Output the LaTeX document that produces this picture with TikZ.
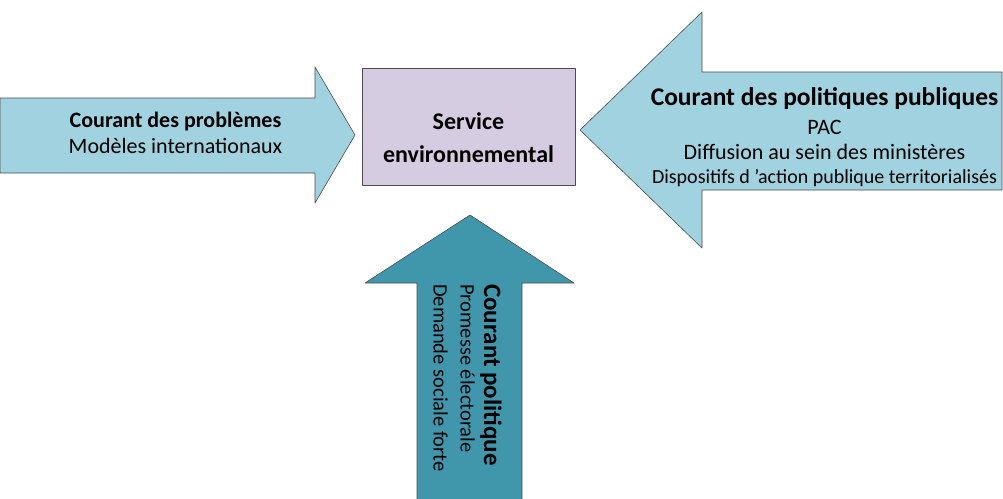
\documentclass[tikz,border=0pt]{standalone}
\usepackage{fontspec}
\setmainfont{Carlito}
\definecolor{courant}{RGB}{160,211,223}
\definecolor{politique}{RGB}{64,151,172}
\definecolor{service}{RGB}{214,204,226}
\begin{document}
\begin{tikzpicture}[x=1pt, y=-1pt, line join=round, font=\fontsize{22}{26}\selectfont]
			\tikzset{fl/.style={draw=black!70, line width=0.6pt},
				t/.style={align=center, inner sep=0pt}}
			\useasboundingbox (0,0) rectangle (1003,498);
			\path[fl, fill=courant] (0,98)--(315,98)--(315,67)--(355,135)--(315,203)--(315,173)--(0,173)--cycle;
			\path[fl, fill=courant] (1002,72)--(702,72)--(702,12)--(580,130)--(702,248)--(702,190)--(1002,190)--cycle;
			\path[fl, fill=politique] (417,500)--(417,283)--(365,283)--(470,215)--(574,283)--(522,283)--(522,500);
			\node[fl, fill=service, minimum width=213pt, minimum height=117pt](S) at (468.5,126.5){};
			\node[t, font=\fontsize{24}{33}\selectfont\bfseries](ST) at (468.5,138){Service\\environnemental};
			\node[t](P) at (175.5,133){\textbf{Courant des problèmes}\\Modèles internationaux};
			\node[t, font=\fontsize{22}{24.5}\selectfont](PP) at (824.5,137){\textbf{\fontsize{25.5}{24.5}\selectfont Courant des politiques publiques}\\[5pt]PAC\\Diffusion au sein des ministères\\\fontsize{20}{24}\selectfont Dispositifs d ’action publique territorialisés};
			\node[t, align=left, rotate=-90, font=\fontsize{20.5}{29}\selectfont](CP) at (467.5,378){\textbf{\fontsize{25}{29}\selectfont Courant politique}\\[-5.5pt]Promesse électorale\\[-2pt]Demande sociale forte};
		\end{tikzpicture}
\end{document}
